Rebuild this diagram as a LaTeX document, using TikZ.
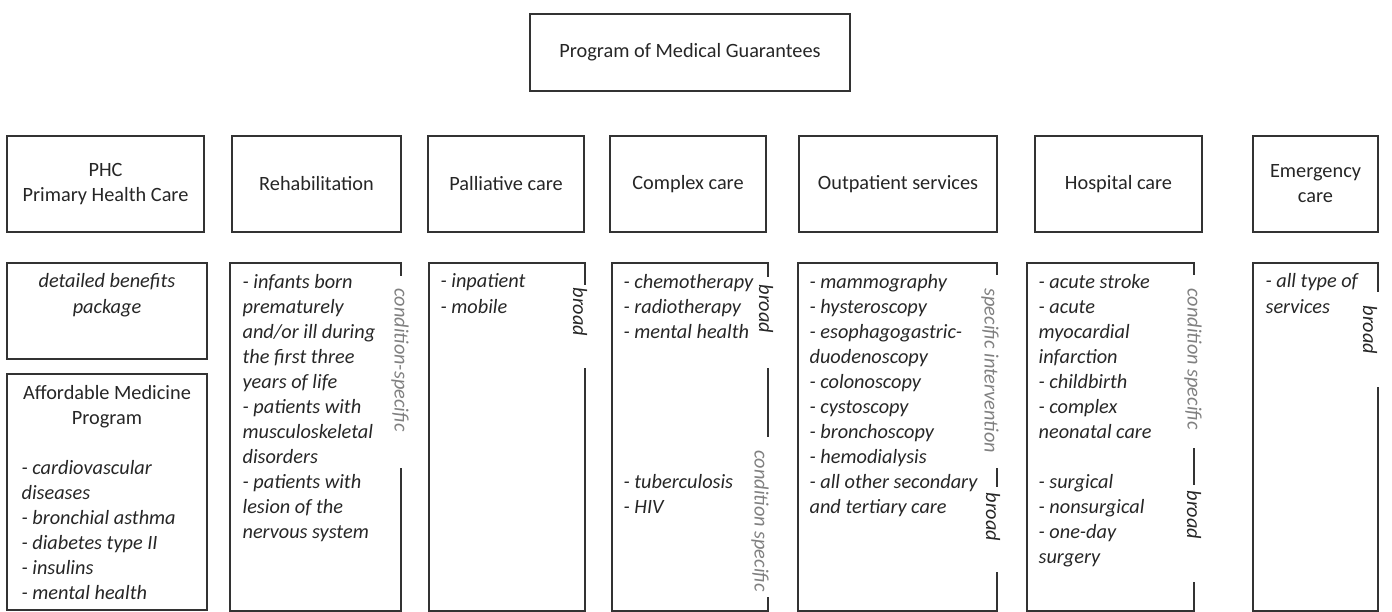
\documentclass[tikz,border=0pt]{standalone}
\usepackage{fontspec}
\setmainfont{Carlito}
\usepackage{tikz}

\begin{document}
\begin{tikzpicture}[x=1pt,y=-1pt,line width=1.2pt,black!80,
  every node/.style={font=\fontsize{20.3pt}{25pt}\selectfont,text=black!85,inner sep=0pt},
  hdr/.style={draw=black!80,align=center,minimum height=96pt},
  lst/.style={anchor=base west,align=left,font=\fontsize{20.3pt}{25pt}\selectfont\itshape},
  side/.style={anchor=west,rotate=-90,font=\fontsize{20.3pt}{25pt}\selectfont\itshape},
  cond/.style={side,text=black!50}]
  \useasboundingbox (0,0) rectangle (1392,612);
  \node[hdr,minimum width=320pt,minimum height=77pt] (prog) at (690,52.5) {Program of Medical Guarantees};
  \foreach \n/\l/\r/\txt in {phc/7/204/{PHC\\Primary Health Care},rehab/232/401/Rehabilitation,
      pall/428/584/Palliative care,compl/610/766/Complex care,outp/799/997/Outpatient services,
      hosp/1035/1202/Hospital care,emerg/1253/1378/{Emergency\\care}} {
    \node[hdr,minimum width={(\r-\l)*1pt}] (\n) at ({(\l+\r)/2},184) {\txt};
  }
  \draw (7,263) rectangle (207,359);
  \draw (7,374) rectangle (207,610);
  \foreach \l/\r/\a/\b in {230/401/276/468,429/585/285/368,612/768/277/597,
      798/997/275/572,1027/1194/275/582,1253/1378/292/387} {
    \draw (\r,\a) |- (\l,263) |- (\r,611) -- (\r,\b);
  }
  \foreach \x/\a/\b in {768/368/437,997/468/487,1194/448/485} {
    \draw (\x,\a) -- (\x,\b);
  }
  % base = last line of each text
  \node[anchor=base,align=center,font=\fontsize{20.3pt}{25pt}\selectfont\itshape] (det) at (107,313) {detailed benefits\\package};
  \node[anchor=base,align=center] (amp) at (107,424) {Affordable Medicine\\Program};
  \node[lst] (amplist) at (21,599) {- cardiovascular\\diseases\\- bronchial asthma\\- diabetes type II\\- insulins\\- mental health};
  \node[lst] (rehablist) at (242,538) {- infants born\\prematurely\\and/or ill during\\the first three\\years of life\\- patients with\\musculoskeletal\\disorders\\- patients with\\lesion of the\\nervous system};
  \node[lst] (palllist) at (440,313) {- inpatient\\- mobile};
  \node[lst] (compla) at (623,338) {- chemotherapy\\- radiotherapy\\- mental health};
  \node[lst] (complb) at (623,513) {- tuberculosis\\- HIV};
  \node[lst] (outpa) at (809,463) {- mammography\\- hysteroscopy\\- esophagogastric-\\duodenoscopy\\- colonoscopy\\- cystoscopy\\- bronchoscopy\\- hemodialysis};
  \node[lst] (outpb) at (809,513) {- all other secondary\\and tertiary care};
  \node[lst] (hospa) at (1038,438) {- acute stroke\\- acute\\myocardial\\infarction\\- childbirth\\- complex\\neonatal care};
  \node[lst] (hospb) at (1038,563) {- surgical\\- nonsurgical\\- one-day\\surgery};
  \node[lst] (emerglist) at (1265,313) {- all type of\\services};
  \node[cond] (rehabcs) at (400,288) {condition-specific};
  \node[side] (pallbr) at (580,287) {broad};
  \node[side] (complbr) at (766,284) {broad};
  \node[cond] (complcs) at (760,450) {condition specific};
  \node[cond] (outpsi) at (990,288) {specific intervention};
  \node[side] (outpbr) at (993,492) {broad};
  \node[cond] (hospcs) at (1193,288) {condition specific};
  \node[side] (hospbr) at (1194,490) {broad};
  \node[side] (emergbr) at (1370,305) {broad};
\end{tikzpicture}
\end{document}
